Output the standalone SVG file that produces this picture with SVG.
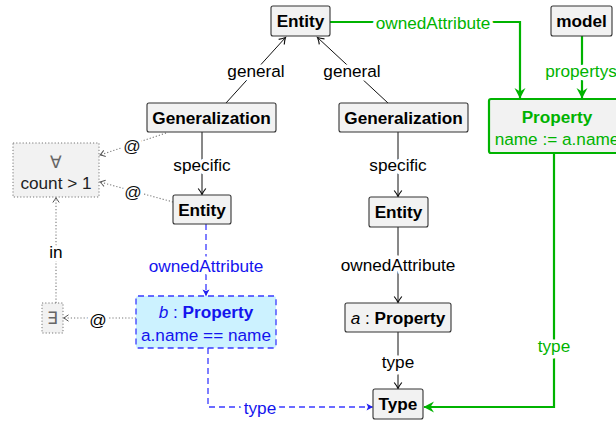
<svg xmlns="http://www.w3.org/2000/svg" width="616" height="421" viewBox="0 0 616 421">
<defs>
<style>
text{font-family:"Liberation Sans",Arial,sans-serif;font-size:17.2px;text-anchor:middle}
.b{font-weight:bold}
.box{fill:#f2f2f2;stroke:#333;stroke-width:1.1}
.lbl{paint-order:stroke;stroke:#fff;stroke-width:7px;stroke-linejoin:round}
.blk{fill:none;stroke:#111;stroke-width:1}
.grn{fill:none;stroke:#00b300;stroke-width:2.2}
.blu{fill:none;stroke:#3a3aff;stroke-width:1.3;stroke-dasharray:6 4}
.dot{fill:none;stroke:#777;stroke-width:1.1;stroke-dasharray:1.2 2}
.gt{fill:#00b300}
.bt{fill:#1414ee}
</style>
<marker id="ak" viewBox="-8 -5 10 10" refX="0" refY="0" markerWidth="10" markerHeight="10" markerUnits="userSpaceOnUse" orient="auto">
<path d="M-6,-3.8 Q-2.5,-1 0,0 Q-2.5,1 -6,3.8" fill="none" stroke="#111" stroke-width="1.2"/>
</marker>
<marker id="ag" viewBox="-11 -6 12 12" refX="0" refY="0" markerWidth="12" markerHeight="12" markerUnits="userSpaceOnUse" orient="auto">
<path d="M0.5,0 L-10,-5.5 L-6.5,0 L-10,5.5 Z" fill="#00b300"/>
</marker>
<marker id="ab" viewBox="-8 -5 10 10" refX="0" refY="0" markerWidth="10" markerHeight="10" markerUnits="userSpaceOnUse" orient="auto">
<path d="M0.5,0 L-6,-3.5 L-4.5,0 L-6,3.5 Z" fill="#2222ee"/>
</marker>
<marker id="ad" viewBox="-8 -5 10 10" refX="0" refY="0" markerWidth="10" markerHeight="10" markerUnits="userSpaceOnUse" orient="auto">
<path d="M-5,-3.2 Q-2,-1 0,0 Q-2,1 -5,3.2" fill="none" stroke="#555" stroke-width="1"/>
</marker>
</defs>
<rect width="616" height="421" fill="#fff"/>

<g id="connectors">
<path class="blk" d="M226,103 L285.5,37.5" marker-end="url(#ak)"/>
<text class="lbl" x="256" y="77">general</text>
<path class="blk" d="M388,103 L317.5,37.5" marker-end="url(#ak)"/>
<text class="lbl" x="352" y="77">general</text>
<path class="blk" d="M202,132 V194.5" marker-end="url(#ak)"/>
<text class="lbl" x="202" y="171">specific</text>
<path class="blk" d="M398,132 V196.5" marker-end="url(#ak)"/>
<text class="lbl" x="398" y="171">specific</text>
<path class="blk" d="M398,227 V302.5" marker-end="url(#ak)"/>
<text class="lbl" x="398" y="271">ownedAttribute</text>
<path class="blk" d="M398,332 V388.5" marker-end="url(#ak)"/>
<text class="lbl" x="398" y="368">type</text>

<path class="grn" d="M330,22 H520 V98" marker-end="url(#ag)"/>
<text class="lbl gt" x="433" y="29">ownedAttribute</text>
<path class="grn" d="M582,36 V98" marker-end="url(#ag)"/>
<text class="lbl gt" x="581" y="77">propertys</text>
<path class="grn" d="M554,153 V407 H424" marker-end="url(#ag)"/>
<text class="lbl gt" x="554" y="352">type</text>

<path class="blu" d="M206,224 V295.5" marker-end="url(#ab)"/>
<text class="lbl bt" x="206" y="272">ownedAttribute</text>
<path class="blu" d="M208,348 V407 H372.5" marker-end="url(#ab)"/>
<text class="lbl bt" x="260" y="414">type</text>

<path class="dot" d="M166,133 L100,155" marker-end="url(#ad)"/>
<text class="lbl" x="132" y="152" style="fill:#111">@</text>
<path class="dot" d="M173,202 L100,182" marker-end="url(#ad)"/>
<text class="lbl" x="133" y="198" style="fill:#111">@</text>
<path class="dot" d="M56,303 V197.5" marker-end="url(#ad)"/>
<text class="lbl" x="56" y="258">in</text>
<path class="dot" d="M136,318 H63.5" marker-end="url(#ad)"/>
<text class="lbl" x="98" y="326">@</text>
</g>

<g id="entity-top">
<rect class="box" x="271" y="6" width="59" height="30" rx="2"/>
<text class="b" x="300.5" y="27">Entity</text>
</g>
<g id="model">
<rect class="box" x="551" y="6" width="61" height="30" rx="2"/>
<text class="b" x="581.5" y="27">model</text>
</g>
<g id="generalization-left">
<rect class="box" x="147" y="103" width="129" height="29" rx="2"/>
<text class="b" x="211.5" y="123.5">Generalization</text>
</g>
<g id="generalization-right">
<rect class="box" x="339" y="103" width="129" height="29" rx="2"/>
<text class="b" x="403.5" y="123.5">Generalization</text>
</g>
<g id="property-new">
<rect x="489" y="99" width="136" height="54" rx="2" fill="#f2f2f2" stroke="#00b300" stroke-width="2.2"/>
<text class="b gt" x="557" y="123">Property</text>
<text class="gt" x="557" y="145">name := a.name</text>
</g>
<g id="entity-left">
<rect class="box" x="173" y="195" width="58" height="29" rx="2"/>
<text class="b" x="202" y="216">Entity</text>
</g>
<g id="entity-right">
<rect class="box" x="369" y="197" width="59" height="30" rx="2"/>
<text class="b" x="398.5" y="218">Entity</text>
</g>
<g id="forall">
<rect x="13" y="143" width="86" height="54" fill="#f2f2f2" stroke="#777" stroke-width="1" stroke-dasharray="1.2 2"/>
<text x="56" y="168" style="fill:#666">∀</text>
<text x="56" y="189" style="fill:#222">count &gt; 1</text>
</g>
<g id="exists">
<rect x="42" y="303" width="21" height="30" fill="#f2f2f2" stroke="#777" stroke-width="1" stroke-dasharray="1.2 2"/>
<text x="52.5" y="324" style="fill:#666">∃</text>
</g>
<g id="property-b">
<rect x="136" y="296" width="140" height="52" rx="2" fill="#ccf2ff" stroke="#3a3aff" stroke-width="1.3" stroke-dasharray="6 4"/>
<text class="bt" x="206" y="318"><tspan font-style="italic">b</tspan> : <tspan font-weight="bold">Property</tspan></text>
<text class="bt" x="206" y="341">a.name == name</text>
</g>
<g id="property-a">
<rect class="box" x="345" y="303" width="106" height="29" rx="2"/>
<text x="398" y="324"><tspan font-style="italic">a</tspan> : <tspan font-weight="bold">Property</tspan></text>
</g>
<g id="type">
<rect class="box" x="373" y="389" width="50" height="30" rx="2"/>
<text class="b" x="398" y="410">Type</text>
</g>
</svg>
